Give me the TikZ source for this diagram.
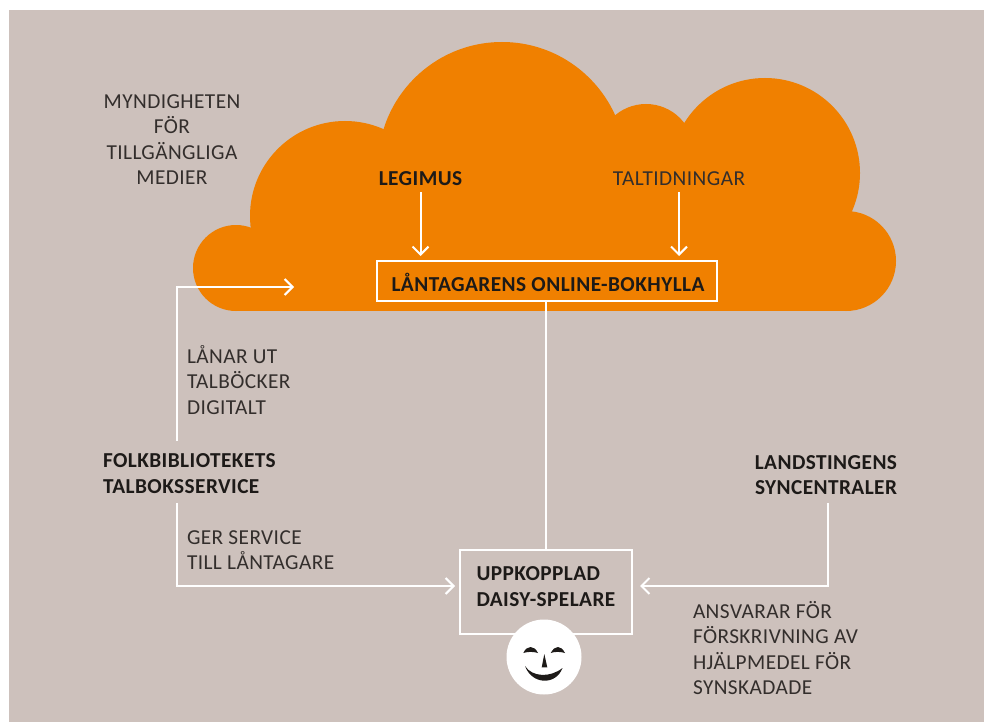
\documentclass[tikz,border=0pt]{standalone}
\usepackage{fontspec}
\setmainfont[LetterSpace=2]{Carlito}
\usetikzlibrary{arrows.meta}
\definecolor{bgc}{HTML}{CDC1BC}
\definecolor{cloudc}{HTML}{F08000}
\definecolor{textc}{HTML}{332E2C}
\definecolor{boldc}{HTML}{1D1A18}
\tikzset{
 lab/.style={inner sep=0pt,outer sep=0pt,text=textc,font=\fontsize{21.3}{25.4}\selectfont},
 blab/.style={inner sep=0pt,outer sep=0pt,text=boldc,font=\fontsize{21.3}{25.4}\selectfont\bfseries},
 wline/.style={draw=white,line width=2pt},
 arr/.style={wline,-{Straight Barb[length=8pt,width=16pt,line width=2pt]}},
 wbox/.style={draw=white,line width=2.2pt,inner sep=0pt,outer sep=0pt},
 cloudp/.style={fill=cloudc},
}
\begin{document}
\begin{tikzpicture}[x=1pt,y=-1pt]
\useasboundingbox (0,0) rectangle (984,722);
\fill[white] (0,0) rectangle (984,722);
\fill[bgc] (9,10) rectangle (984,722);
% cloud
\fill[cloudp] (236,268) circle[radius=43];
\fill[cloudp] (345,216) circle[radius=95];
\fill[cloudp] (502,166) circle[radius=124];
\fill[cloudp] (646,152) circle[radius=48];
\fill[cloudp] (765,173) circle[radius=95];
\fill[cloudp] (846,261) circle[radius=50];
\fill[cloudp] (236,240) rectangle (846,311);
\fill[cloudp] (590,160) rectangle (700,245);
% boxes
\node[wbox,minimum width=340pt,minimum height=40pt] (online) at (547,281) {};
\node[blab] (onlinet) at (548,282) {LÅNTAGARENS ONLINE-BOKHYLLA};
\node[blab] (legimus) at (420.5,179) {LEGIMUS};
\node[lab] (taltid) at (679,179) {TALTIDNINGAR};
\node[wbox,minimum width=172.5pt,minimum height=84pt] (daisy) at (546,592) {};
\node[blab,align=left,anchor=north west] (daisyt) at (476.5,567) {UPPKOPPLAD\\DAISY-SPELARE};
% texts
\node[lab,align=center] (myn) at (172,139.5) {MYNDIGHETEN\\FÖR\\TILLGÄNGLIGA\\MEDIER};
\node[lab,align=left,anchor=north west] (lanar) at (187,345.5) {LÅNAR UT\\TALBÖCKER\\DIGITALT};
\node[blab,align=left,anchor=north west] (folk) at (103,454) {FOLKBIBLIOTEKETS\\TALBOKSSERVICE};
\node[lab,align=left,anchor=north west] (ger) at (187,530.5) {GER SERVICE\\TILL LÅNTAGARE};
\node[blab,align=right,anchor=north east] (land) at (897,455.5) {LANDSTINGENS\\SYNCENTRALER};
\node[lab,align=left,anchor=north west] (ansv) at (693,601.5) {ANSVARAR FÖR\\FÖRSKRIVNING AV\\HJÄLPMEDEL FÖR\\SYNSKADADE};
% connector ends
\coordinate (fup) at (177,441);
\coordinate (fdown) at (177,503);
\coordinate (ftip) at (294,287);
\coordinate (gtip) at (455,586);
\coordinate (ltop) at (828,503);
\coordinate (ltip) at (640,586);
% connectors
\draw[arr,shorten <=6pt,shorten >=5pt] (legimus.south) -- (legimus.south |- online.north);
\draw[arr,shorten <=6pt,shorten >=5pt] (taltid.south) -- (taltid.south |- online.north);
\draw[wline] (online.south -| daisy.north) -- (daisy.north);
\draw[arr] (fup) |- (ftip);
\draw[arr] (fdown) |- (gtip);
\draw[arr] (ltop) |- (ltip);
% smiley
\fill[white] (544,657) circle[radius=37.5];
\fill[boldc] (523.3,653) .. controls (527,645) and (534,645) .. (538,653) .. controls (533,651.5) and (528,651.5) .. (523.3,653) -- cycle;
\fill[boldc] (550.7,653) .. controls (555,645) and (561,645) .. (565,653) .. controls (560,651.5) and (555,651.5) .. (550.7,653) -- cycle;
\fill[boldc] (544.3,654) -- (547.3,667.3) -- (541.7,667.3) -- cycle;
\fill[boldc] (525,666) .. controls (532,677) and (550,678) .. (562.5,668) .. controls (556,685.5) and (532,685) .. (525,666) -- cycle;
\end{tikzpicture}
\end{document}
